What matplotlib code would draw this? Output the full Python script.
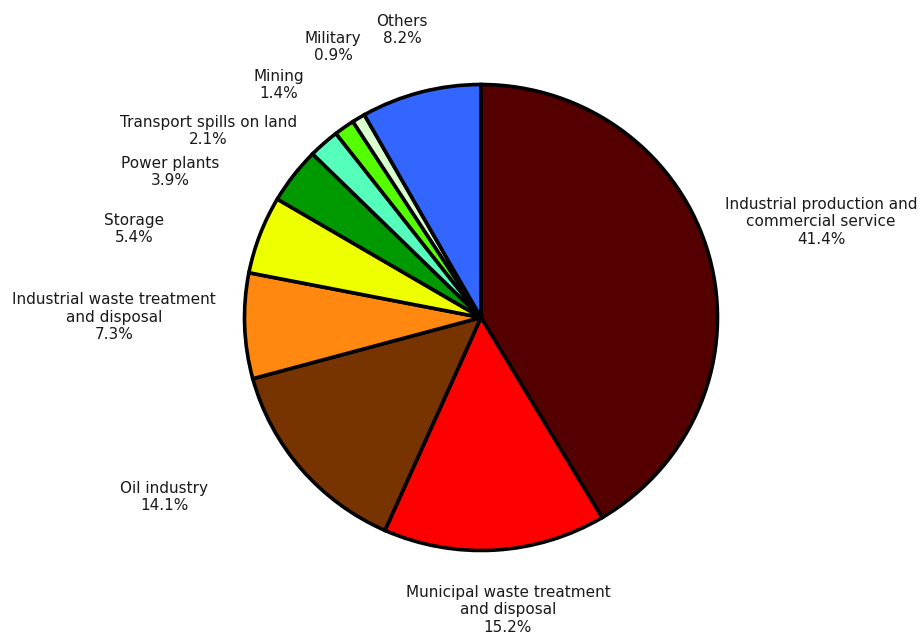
import matplotlib.pyplot as plt

# sector shares (%), clockwise from 12 o'clock
sectors = [
    'Industrial production and\ncommercial service',
    'Municipal waste treatment\nand disposal',
    'Oil industry',
    'Industrial waste treatment\nand disposal',
    'Storage',
    'Power plants',
    'Transport spills on land',
    'Mining',
    'Military',
    'Others',
]
shares = [41.4, 15.2, 14.1, 7.3, 5.4, 3.9, 2.1, 1.4, 0.9, 8.2]
colors = ['#550000', '#ff0000', '#773300', '#ff8811', '#eeff00',
          '#009900', '#55ffbb', '#55ff00', '#d8ffcc', '#3366ff']

# label anchor points, in pie radius units
label_xy = [(1.438, 0.410), (0.114, -1.255), (-1.340, -0.770), (-1.552, 0.002),
            (-1.467, 0.380), (-1.315, 0.624), (-1.154, 0.800), (-0.854, 0.998),
            (-0.626, 1.161), (-0.334, 1.234)]

fig = plt.figure(figsize=(9.21, 6.37), dpi=100)
ax = fig.add_axes([0, 0, 1, 1])

ax.pie(shares, colors=colors, startangle=90, counterclock=False, radius=1.0,
       wedgeprops=dict(edgecolor='black', linewidth=2.6))

for name, val, (x, y) in zip(sectors, shares, label_xy):
    ax.text(x, y, f'{name}\n{val}%', ha='center', va='center',
            fontsize=11, color='#1a1a1a', linespacing=1.2)

# slightly squashed vertically, like the original
ax.set_xlim(-481 / 236.5, 440 / 236.5)
ax.set_ylim(-319.5 / 233, 317.5 / 233)
ax.set_aspect('auto')
ax.axis('off')

plt.savefig('out.png', dpi=100)
plt.close()
